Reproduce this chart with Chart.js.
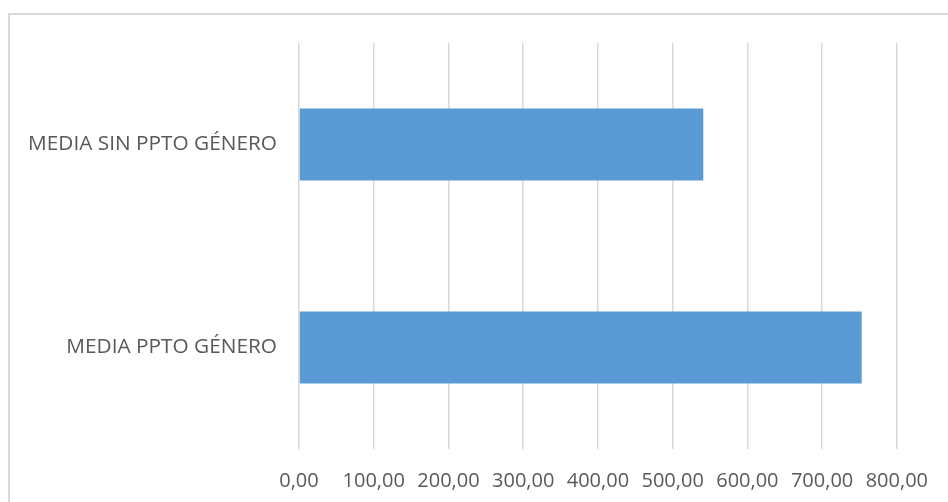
<!DOCTYPE html>
<html>
<head>
<meta charset="utf-8">
<script src="https://cdn.jsdelivr.net/npm/chart.js@4"></script>
<style>
  html, body { margin: 0; padding: 0; background: #fff; overflow: hidden; }
  #wrap { position: relative; width: 948px; height: 502px; }
  #frame {
    position: absolute; left: 8px; top: 13px; width: 1000px; height: 600px;
    border: 2px solid #d9d9d9; box-sizing: border-box;
  }
  canvas { position: absolute; left: 0; top: 0; }
</style>
</head>
<body>
<div id="wrap">
  <div id="frame"></div>
  <canvas id="chart" width="948" height="502"></canvas>
</div>
<script>
document.addEventListener("DOMContentLoaded", () => {

  const categories = ["MEDIA SIN PPTO GÉNERO", "MEDIA PPTO GÉNERO"];
  const values = [541, 753];
  const axisMin = 0;
  const axisMax = 800;
  const axisStep = 100;

  const textColor = "#595959";
  const fontFamily = "'Open Sans', sans-serif";

  new Chart(document.getElementById("chart"), {
    type: "bar",
    data: {
      labels: categories,
      datasets: [{
        data: values,
        backgroundColor: "#5b9bd5",
        borderWidth: 0,
        categoryPercentage: 1,
        barPercentage: 0.355
      }]
    },
    options: {
      indexAxis: "y",
      responsive: false,
      animation: false,
      layout: { padding: { left: 0, right: 49, top: 43, bottom: 0 } },
      plugins: {
        legend: { display: false },
        tooltip: { enabled: false }
      },
      scales: {
        x: {
          min: axisMin,
          max: axisMax,
          border: { display: false },
          grid: { color: "#d9d9d9", lineWidth: 1.5, drawTicks: false },
          ticks: {
            stepSize: axisStep,
            color: textColor,
            font: { family: fontFamily, size: 20 },
            padding: 20,
            maxRotation: 0,
            callback: v => v.toFixed(2).replace(".", ",")
          },
          afterFit: s => { s.height = 502 - 449; }
        },
        y: {
          border: { display: false },
          grid: { display: false, drawTicks: false },
          ticks: {
            color: textColor,
            font: { family: fontFamily, size: 20.8 },
            padding: 22
          },
          afterFit: s => { s.width = 299; }
        }
      }
    }
  });

});
</script>
</body>
</html>
